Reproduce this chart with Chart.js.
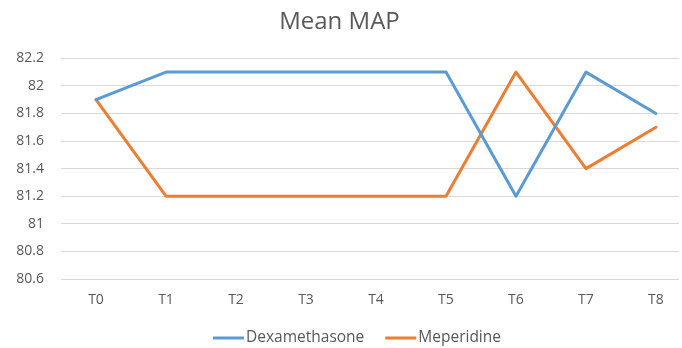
<!DOCTYPE html>
<html>
<head>
<meta charset="utf-8">
<script src="https://cdn.jsdelivr.net/npm/chart.js@4/dist/chart.umd.min.js"></script>
<style>
  html, body { margin: 0; padding: 0; background: #ffffff; }
  #wrap { width: 682px; height: 348px; position: relative; }
</style>
</head>
<body>
<div id="wrap"><canvas id="c" width="682" height="348"></canvas></div>
<script>
const categories = ['T0', 'T1', 'T2', 'T3', 'T4', 'T5', 'T6', 'T7', 'T8'];
const dexamethasone = [81.9, 82.1, 82.1, 82.1, 82.1, 82.1, 81.2, 82.1, 81.8];
const meperidine = [81.9, 81.2, 81.2, 81.2, 81.2, 81.2, 82.1, 81.4, 81.7];
const yTicks = [80.6, 80.8, 81, 81.2, 81.4, 81.6, 81.8, 82, 82.2];

const FONT = "'Open Sans', 'Liberation Sans', sans-serif";
const TEXT = '#595959';

function toPoints(arr) {
  return arr.map((v, i) => ({ x: i, y: v }));
}

// Compact line-sample legend under the x axis: short stroke, tight gap, label.
const lineLegend = {
  id: 'lineLegend',
  afterDraw(chart) {
    const ctx = chart.ctx;
    const sample = 31, gap = 2, itemGap = 21, y = 338;
    ctx.save();
    ctx.font = "15.5px " + FONT;
    const items = chart.data.datasets.map(ds => ({
      label: ds.label, color: ds.borderColor, w: ctx.measureText(ds.label).width
    }));
    const total = items.reduce((s, it) => s + sample + gap + it.w, 0) + itemGap * (items.length - 1);
    let x = 357 - total / 2;
    ctx.textBaseline = 'middle';
    ctx.textAlign = 'left';
    items.forEach(it => {
      ctx.strokeStyle = it.color;
      ctx.lineWidth = 3;
      ctx.lineCap = 'butt';
      ctx.beginPath();
      ctx.moveTo(x, y);
      ctx.lineTo(x + sample, y);
      ctx.stroke();
      ctx.fillStyle = TEXT;
      ctx.fillText(it.label, x + sample + gap, y);
      x += sample + gap + it.w + itemGap;
    });
    ctx.restore();
  }
};

new Chart(document.getElementById('c'), {
  type: 'line',
  data: {
    datasets: [
      {
        label: 'Dexamethasone',
        data: toPoints(dexamethasone),
        borderColor: '#5B9BD5',
        backgroundColor: '#5B9BD5',
        borderWidth: 3,
        pointRadius: 0,
        tension: 0,
        borderJoinStyle: 'round',
        borderCapStyle: 'round'
      },
      {
        label: 'Meperidine',
        data: toPoints(meperidine),
        borderColor: '#ED7D31',
        backgroundColor: '#ED7D31',
        borderWidth: 3,
        pointRadius: 0,
        tension: 0,
        borderJoinStyle: 'round',
        borderCapStyle: 'round'
      }
    ]
  },
  plugins: [lineLegend],
  options: {
    responsive: false,
    animation: false,
    layout: { padding: { left: 0, right: 3, top: 0, bottom: 29 } },
    plugins: {
      title: {
        display: true,
        text: 'Mean MAP',
        color: TEXT,
        font: { family: FONT, size: 24, weight: 'normal' },
        padding: { top: 8, bottom: 21.5 }
      },
      legend: { display: false },
      tooltip: { enabled: false }
    },
    scales: {
      x: {
        type: 'linear',
        min: -0.5,
        max: 8.329,
        afterBuildTicks(scale) {
          scale.ticks = categories.map((_, i) => ({ value: i }));
        },
        afterFit(scale) { scale.height = 40; },
        ticks: {
          color: TEXT,
          font: { family: FONT, size: 14 },
          padding: 13,
          autoSkip: false,
          maxRotation: 0,
          callback: (v) => categories[v]
        },
        grid: { display: false, drawTicks: false },
        border: { display: false }
      },
      y: {
        min: 80.6,
        max: 82.2,
        afterBuildTicks(scale) {
          scale.ticks = yTicks.map(v => ({ value: v }));
        },
        afterFit(scale) { scale.width = 61; },
        ticks: {
          color: TEXT,
          font: { family: FONT, size: 14 },
          padding: 17,
          callback: (v) => String(Number(v.toFixed(1)))
        },
        grid: { color: '#D9D9D9', lineWidth: 1, drawTicks: false },
        border: { display: false }
      }
    }
  }
});
</script>
</body>
</html>
